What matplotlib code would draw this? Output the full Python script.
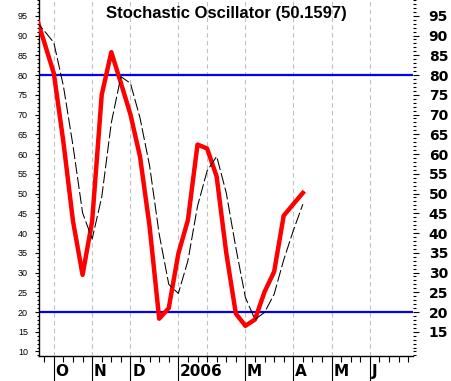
import matplotlib
matplotlib.use('Agg')
import matplotlib.pyplot as plt
import matplotlib.ticker as mticker
import matplotlib.transforms as mtrans

# weekly data, week index 0 = first tick on the time axis
weeks = list(range(-1, 28))
k_line = [96.0, 88.3, 80.4, 63.0, 43.0, 29.4, 43.0, 75.0, 85.8, 78.0,
          70.0, 59.3, 41.6, 18.3, 21.0, 34.8, 43.3, 62.4, 61.4, 54.3,
          35.0, 19.6, 16.5, 18.1, 25.1, 30.2, 44.4, 47.3, 50.16]
d_line = [93.9, 91.2, 88.2, 77.2, 62.1, 45.1, 38.5, 49.1, 67.9, 79.6,
          77.9, 69.1, 57.0, 39.7, 27.0, 24.7, 33.0, 46.8, 55.7, 59.4,
          50.2, 36.3, 23.7, 18.1, 19.9, 24.5, 33.2, 40.6, 47.3]

month_weeks = [1, 5, 9, 14, 21, 26, 30, 34]
month_labels = ['O', 'N', 'D', '2006', 'M', 'A', 'M', 'J']
grid_weeks = [1, 5, 9, 14, 17, 21, 26, 30, 34]
levels = [20, 80]
title = 'Stochastic Oscillator (50.1597)'

fig = plt.figure(figsize=(4.51, 3.81), dpi=100)
ax = fig.add_axes([39 / 451, 1 - 356 / 381, 374 / 451, 356 / 381])
ax.set_xlim(-0.55, 38.5)
ax.set_ylim(8.86, 99)

for g in grid_weeks:
    ax.axvline(g, color='#c0c0c0', lw=0.8, ls=(0, (4, 3)), zorder=1)
for lv in levels:
    ax.axhline(lv, color='#0000ff', lw=1.6, zorder=2)

ax.plot(weeks, k_line, color='#ff0000', lw=3.2, zorder=3)
ax.plot(weeks, d_line, color='black', lw=0.75, dashes=(11.5, 3), zorder=4)

ax.text(0.5, 0.961, title, transform=ax.transAxes, ha='center', va='center',
        fontsize=12, fontweight='bold', family='Liberation Sans', zorder=5)

for s in ['top', 'right']:
    ax.spines[s].set_visible(False)
ax.spines['left'].set_linewidth(1)
ax.spines['bottom'].set_linewidth(1)

# left axis
ax.yaxis.set_major_locator(mticker.MultipleLocator(5))
ax.yaxis.set_minor_locator(mticker.MultipleLocator(1))
ax.tick_params(axis='y', which='major', length=3, width=0.8, pad=5,
               labelsize=6.5, direction='out')
ax.tick_params(axis='y', which='minor', length=1.5, width=0.8, direction='out')
for t in ax.get_yticklabels():
    t.set_family('Liberation Sans')

# bottom axis
ax.set_xticks(month_weeks)
ax.set_xticks(range(0, 39), minor=True)
ax.tick_params(axis='x', which='major', length=18, width=0.8, labelbottom=False)
ax.tick_params(axis='x', which='minor', length=4.3, width=0.8)
trans = mtrans.blended_transform_factory(ax.transData, ax.transAxes)
for m, lab in zip(month_weeks, month_labels):
    ax.text(m + 0.18, -0.043, lab, transform=trans, ha='left', va='center',
            fontsize=11, fontweight='bold', family='DejaVu Sans')

# right axis
ax2 = ax.twinx()
ax2.set_ylim(ax.get_ylim())
for s in ax2.spines.values():
    s.set_visible(False)
ax2.set_yticks(range(15, 100, 5))
ax2.yaxis.set_minor_locator(mticker.MultipleLocator(1))
ax2.tick_params(axis='y', which='major', length=4.3, width=0.8, pad=7,
                labelsize=10)
ax2.tick_params(axis='y', which='minor', length=1.8, width=0.8)
for t in ax2.get_yticklabels():
    t.set_fontweight('bold')

fig.savefig('out.png', dpi=100)
